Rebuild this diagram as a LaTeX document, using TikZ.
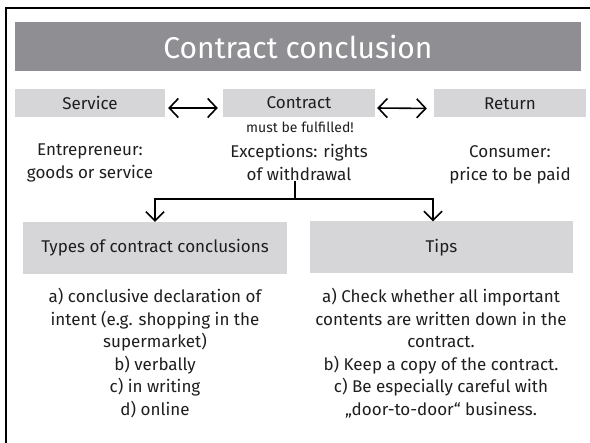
\documentclass[tikz,border=0pt]{standalone}
\usepackage{fontspec}
\setmainfont{Fira Sans}
\usetikzlibrary{arrows.meta}
\definecolor{titlegray}{RGB}{143,143,147}
\definecolor{boxgray}{RGB}{214,214,216}
\definecolor{ink}{RGB}{30,30,30}
\tikzset{
  head/.style={fill=boxgray, minimum height=28pt, inner sep=0pt, text=ink, font=\fontsize{17}{20}\selectfont},
  sub/.style={fill=boxgray, minimum height=52pt, inner sep=0pt, text=ink, font=\fontsize{17}{20}\selectfont},
  txt/.style={align=center, text=ink, inner sep=0pt, font=\fontsize{17}{22.5}\selectfont},
  arr/.style={line width=1.6pt, arrows={-Straight Barb[length=9pt,width=18pt]}},
  darr/.style={line width=1.6pt, arrows={Straight Barb[length=9pt,width=19pt]-Straight Barb[length=9pt,width=19pt]}}
}
\begin{document}
\begin{tikzpicture}[x=1pt,y=-1pt]
\useasboundingbox (0,0) rectangle (590,443);
%\draw[step=10,gray,very thin] (0,0) grid (590,443); %background grid
\draw[line width=2.5pt] (6,443) -- (6,8) -- (590,8);
\node[fill=titlegray, minimum width=566pt, minimum height=49pt, text=white, font=\fontsize{30}{36}\selectfont] (title) at (298,46.5) {Contract conclusion};
\node[head, minimum width=150pt] (service) at (90,103) {Service};
\node[head, minimum width=152pt] (contract) at (299,103) {Contract};
\node[head, minimum width=152pt] (return) at (510,103.5) {Return};
\draw[darr, shorten <=3pt, shorten >=5pt] ([yshift=-5pt]service.east) -- ([yshift=-5pt]contract.west);
\draw[darr, shorten <=2pt, shorten >=7pt] ([yshift=-5pt]contract.east) -- ([yshift=-5pt]return.west);
\node[txt, font=\fontsize{14}{15}\selectfont] (must) at (300,127) {must be fulfilled!};
\node[txt] (entre) at (90,163) {Entrepreneur:\\goods or service};
\node[txt] (exc) at (299,162.5) {Exceptions: rights\\of withdrawal};
\node[txt] (consumer) at (510,165) {Consumer:\\price to be paid};
\node[sub, minimum width=264pt] (types) at (155,248) {Types of contract conclusions};
\node[sub, minimum width=263pt] (tips) at (441.5,247.5) {Tips};
\coordinate (split) at (295,199);
\draw[line width=1.4pt] (split |- exc.south) -- (split);
\draw[arr] (split) -| (types.north);
\draw[arr] (split) -| ([xshift=-8.5pt]tips.north);
\node[txt] (kinds) at (155,353) {a) conclusive declaration of\\intent (e.g. shopping in the\\supermarket)\\b) verbally\\c) in writing\\d) online};
\node[txt] (hints) at (441,353) {a) Check whether all important\\contents are written down in the\\contract.\\b) Keep a copy of the contract.\\c) Be especially careful with\\„door-to-door“ business.};
\end{tikzpicture}
\end{document}
